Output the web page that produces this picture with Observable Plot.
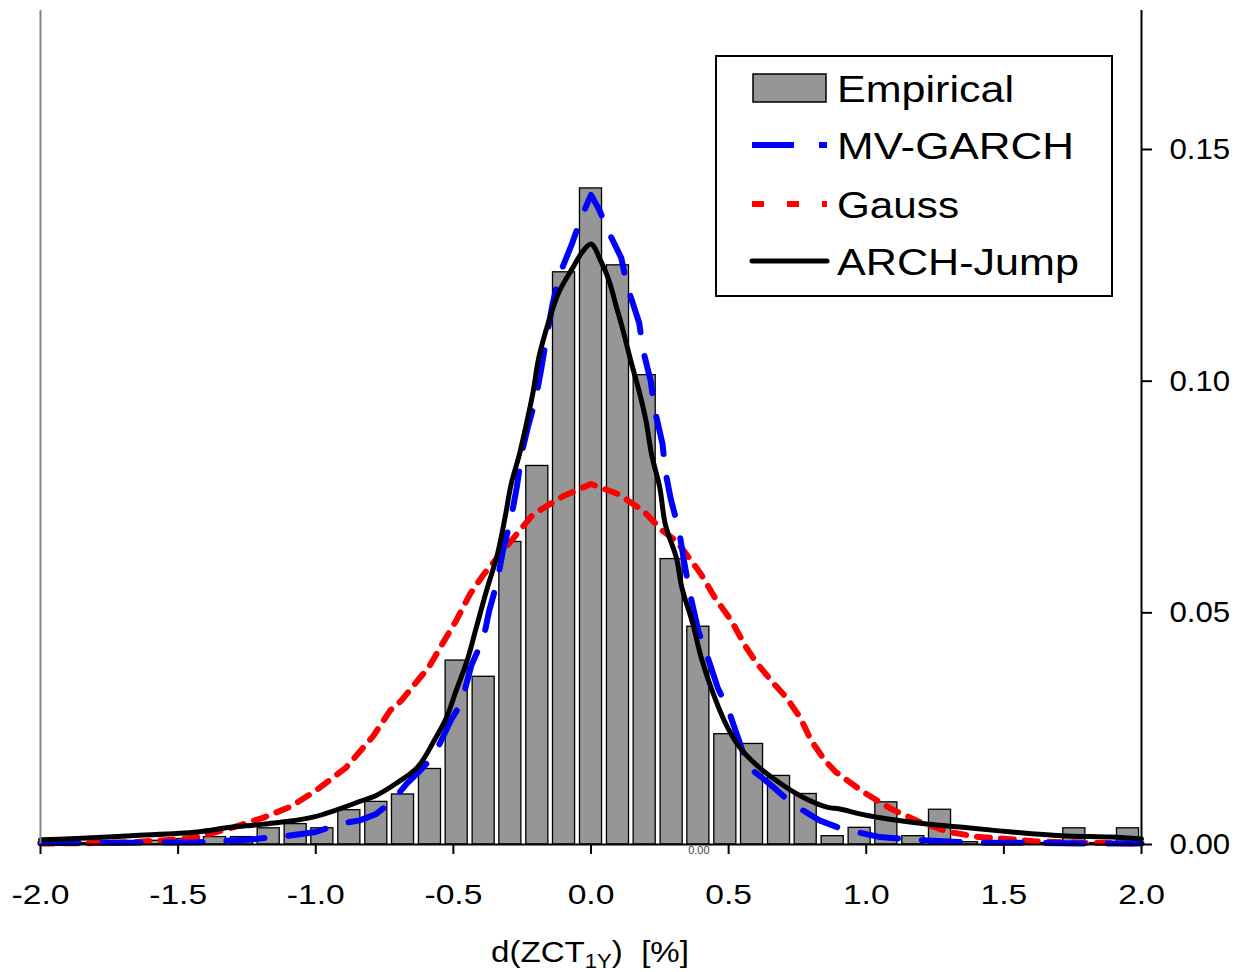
<!DOCTYPE html>
<html><head><meta charset="utf-8">
<script src="https://cdn.jsdelivr.net/npm/d3@7"></script>
<script src="https://cdn.jsdelivr.net/npm/@observablehq/plot@0.6"></script>
<style>body{margin:0;background:#fff} #chart svg{display:block}</style>
</head><body><div id="chart"></div>
<script>
// ---- data ----
const binCenters = [-1.951,-1.854,-1.756,-1.659,-1.561,-1.463,-1.366,-1.268,-1.171,-1.073,-0.976,-0.878,-0.780,-0.683,-0.585,-0.488,-0.390,-0.293,-0.195,-0.098,0,0.098,0.195,0.293,0.390,0.488,0.585,0.683,0.780,0.878,0.976,1.073,1.171,1.268,1.366,1.463,1.561,1.659,1.756,1.854,1.951];
const binWidth = 0.0976;
const empirical = [0.0003,0.0003,0.0003,0.0005,0.0008,0.0012,0.0016,0.0016,0.0035,0.0044,0.0035,0.0074,0.0092,0.0108,0.0163,0.0397,0.0362,0.0653,0.0817,0.1235,0.1416,0.1250,0.1013,0.0616,0.0470,0.0238,0.0217,0.0148,0.0109,0.0018,0.0036,0.0091,0.0018,0.0075,0.0005,0.0005,0.0003,0.0003,0.0035,0.0003,0.0035];

const mvGarch = [[-2.0,0.0003],[-1.91,0.0003],[-1.67,0.0004],[-1.43,0.0005],[-1.25,0.0010],[-1.10,0.0019],[-1.00,0.0027],[-0.91,0.0045],[-0.84,0.0052],[-0.78,0.0066],[-0.72,0.0095],[-0.67,0.0131],[-0.62,0.0160],[-0.57,0.0192],[-0.51,0.0267],[-0.47,0.0307],[-0.435,0.0386],[-0.39,0.0447],[-0.37,0.0504],[-0.34,0.0569],[-0.32,0.0634],[-0.29,0.0705],[-0.27,0.0770],[-0.25,0.0849],[-0.23,0.0899],[-0.20,0.0964],[-0.18,0.1029],[-0.16,0.1100],[-0.14,0.1165],[-0.115,0.1230],[-0.10,0.1251],[-0.07,0.1295],[-0.036,0.1352],[0,0.1402],[0.03,0.1370],[0.06,0.1327],[0.11,0.1266],[0.13,0.1208],[0.175,0.1126],[0.19,0.1065],[0.217,0.1000],[0.23,0.0942],[0.26,0.0864],[0.27,0.0806],[0.29,0.0745],[0.32,0.0677],[0.34,0.0605],[0.36,0.0540],[0.39,0.0461],[0.42,0.0411],[0.46,0.0339],[0.50,0.0289],[0.54,0.0220],[0.57,0.0167],[0.62,0.0145],[0.67,0.0120],[0.73,0.0088],[0.83,0.0052],[0.91,0.0034],[1.05,0.0016],[1.17,0.0010],[1.40,0.0004],[1.60,0.0004],[1.77,0.0002],[2.0,0.0002]];

const gauss = [[-2.0,0.0002],[-1.80,0.0003],[-1.67,0.0005],[-1.50,0.0011],[-1.43,0.0016],[-1.30,0.0037],[-1.19,0.0058],[-1.09,0.0082],[-1.00,0.0116],[-0.89,0.0166],[-0.79,0.0235],[-0.73,0.0289],[-0.69,0.0310],[-0.62,0.0361],[-0.59,0.0382],[-0.54,0.0433],[-0.49,0.0483],[-0.44,0.0540],[-0.39,0.0583],[-0.30,0.0648],[-0.21,0.0713],[-0.10,0.0752],[0,0.0778],[0.10,0.0756],[0.19,0.0720],[0.26,0.0677],[0.31,0.0655],[0.37,0.0608],[0.40,0.0583],[0.45,0.0533],[0.51,0.0483],[0.56,0.0429],[0.60,0.0393],[0.66,0.0350],[0.71,0.0317],[0.76,0.0274],[0.80,0.0224],[0.85,0.0181],[0.89,0.0156],[0.99,0.0113],[1.09,0.0077],[1.20,0.0047],[1.30,0.0027],[1.41,0.0016],[1.51,0.0012],[1.61,0.0007],[1.71,0.0005],[1.81,0.0003],[1.90,0.0003],[2.0,0.0002]];

const archJump = [[-2.0,0.0010],[-1.91,0.0012],[-1.67,0.0019],[-1.43,0.0027],[-1.31,0.0037],[-1.19,0.0044],[-1.01,0.0059],[-0.83,0.0095],[-0.78,0.0106],[-0.71,0.0131],[-0.63,0.0167],[-0.57,0.0224],[-0.525,0.0274],[-0.49,0.0332],[-0.45,0.0397],[-0.42,0.0461],[-0.38,0.0547],[-0.34,0.0626],[-0.31,0.0713],[-0.29,0.0778],[-0.26,0.0842],[-0.235,0.0907],[-0.21,0.0978],[-0.19,0.1050],[-0.15,0.1136],[-0.115,0.1194],[-0.067,0.1244],[-0.03,0.1280],[0,0.1296],[0.036,0.1259],[0.066,0.1216],[0.09,0.1165],[0.114,0.1115],[0.145,0.1043],[0.175,0.0978],[0.2,0.0914],[0.22,0.0842],[0.25,0.0770],[0.27,0.0691],[0.31,0.0619],[0.33,0.0555],[0.37,0.0476],[0.40,0.0404],[0.44,0.0332],[0.49,0.0260],[0.54,0.0210],[0.61,0.0167],[0.69,0.0131],[0.77,0.0102],[0.86,0.0080],[0.90,0.0077],[1.00,0.0063],[1.165,0.0048],[1.35,0.0037],[1.53,0.0027],[1.71,0.0019],[1.89,0.0016],[2.0,0.0012]];

const xTicks = [-2,-1.5,-1,-0.5,0,0.5,1,1.5,2];
const yTicks = [0,0.05,0.10,0.15];
const legendLabels = ["Empirical","MV-GARCH","Gauss","ARCH-Jump"];
const xLabelMain = "d(ZCT", xLabelSub = "1Y", xLabelTail = ")\u00a0\u00a0[%]";
const strayLabel = "0.00";

// ---- build ----
const FONT = "'Liberation Sans', Arial, sans-serif";
const bars = binCenters.map((c, i) => ({x1: c - binWidth / 2, x2: c + binWidth / 2, y: empirical[i]}));
const rows = arr => arr.map(([x, y]) => ({x, y}));

const plot = Plot.plot({
  width: 1236, height: 972,
  marginLeft: 40, marginRight: 95, marginTop: 10, marginBottom: 128,
  style: {fontFamily: FONT, background: "#fff", color: "#000", overflow: "visible"},
  x: {domain: [-2, 2]},
  y: {domain: [0, 0.18]},
  marks: [
    Plot.rectY(bars, {x1: "x1", x2: "x2", y: "y", fill: "#969696", stroke: "#000", strokeWidth: 1.3, insetLeft: 2.4, insetRight: 2.4}),
    Plot.line(rows(gauss), {x: "x", y: "y", stroke: "#ff0000", strokeWidth: 6, strokeDasharray: "13,11"}),
    Plot.line(rows(mvGarch), {x: "x", y: "y", stroke: "#0000ff", strokeWidth: 6, strokeDasharray: "38,24"}),
    Plot.line(rows(archJump), {x: "x", y: "y", stroke: "#000", strokeWidth: 5, curve: "catmull-rom"}),
    Plot.ruleX([-2], {stroke: "#888", strokeWidth: 2}),
    Plot.ruleX([2], {stroke: "#000", strokeWidth: 2}),
    Plot.ruleY([0], {stroke: "#000", strokeWidth: 2}),
    Plot.axisX({ticks: xTicks, tickFormat: d => d.toFixed(1), tickSize: 10, tickPadding: 30, fontSize: 28, strokeWidth: 2, label: null}),
    Plot.axisY({anchor: "right", ticks: yTicks, tickFormat: d => d.toFixed(2), tickSize: 10, tickPadding: 18, fontSize: 30, strokeWidth: 2, label: null}),
    Plot.text([strayLabel], {x: () => 0.392, y: () => 0, text: d => d, dy: 6, fontSize: 11, fill: "#444"})
  ]
});
document.getElementById("chart").appendChild(plot);

const svg = d3.select(plot);
function stretch(sel, k) {
  sel.each(function () {
    const w = this.getComputedTextLength();
    if (w > 0) { this.setAttribute("textLength", w * k); this.setAttribute("lengthAdjust", "spacingAndGlyphs"); }
  });
}
stretch(svg.selectAll('g[aria-label="x-axis tick label"] text'), 1.2);
stretch(svg.selectAll('g[aria-label="y-axis tick label"] text'), 1.04);

// x-axis title with subscript
const xl = svg.append("text").attr("x", 590).attr("y", 962).attr("text-anchor", "middle")
  .attr("font-family", FONT).attr("font-size", 30).attr("fill", "#000");
xl.append("tspan").text(xLabelMain);
xl.append("tspan").attr("font-size", 20).attr("dy", 6).text(xLabelSub);
xl.append("tspan").attr("dy", -6).text(xLabelTail);
xl.attr("textLength", 198).attr("lengthAdjust", "spacingAndGlyphs");

// legend
const lg = svg.append("g").attr("font-family", FONT).attr("text-anchor", "start");
lg.append("rect").attr("x", 716).attr("y", 56).attr("width", 396).attr("height", 240)
  .attr("fill", "#fff").attr("stroke", "#000").attr("stroke-width", 2);
const rowsY = [88, 145, 204, 261];
lg.append("rect").attr("x", 753).attr("y", 74).attr("width", 73).attr("height", 28)
  .attr("fill", "#969696").attr("stroke", "#000").attr("stroke-width", 1.5);
lg.append("line").attr("x1", 752).attr("x2", 827).attr("y1", rowsY[1]).attr("y2", rowsY[1])
  .attr("stroke", "#0000ff").attr("stroke-width", 6).attr("stroke-dasharray", "42,25");
lg.append("line").attr("x1", 752).attr("x2", 827).attr("y1", rowsY[2]).attr("y2", rowsY[2])
  .attr("stroke", "#ff0000").attr("stroke-width", 6).attr("stroke-dasharray", "12,23");
lg.append("line").attr("x1", 752).attr("x2", 827).attr("y1", rowsY[3]).attr("y2", rowsY[3])
  .attr("stroke", "#000").attr("stroke-width", 5).attr("stroke-linecap", "round");
const legendWidths = [177, 237, 122, 242];
legendLabels.forEach((t, i) => {
  lg.append("text").attr("x", 837).attr("y", rowsY[i] + 13.5).attr("font-size", 37).attr("fill", "#000")
    .attr("text-anchor", "start")
    .attr("textLength", legendWidths[i]).attr("lengthAdjust", "spacingAndGlyphs").text(t);
});
</script>
</body></html>
